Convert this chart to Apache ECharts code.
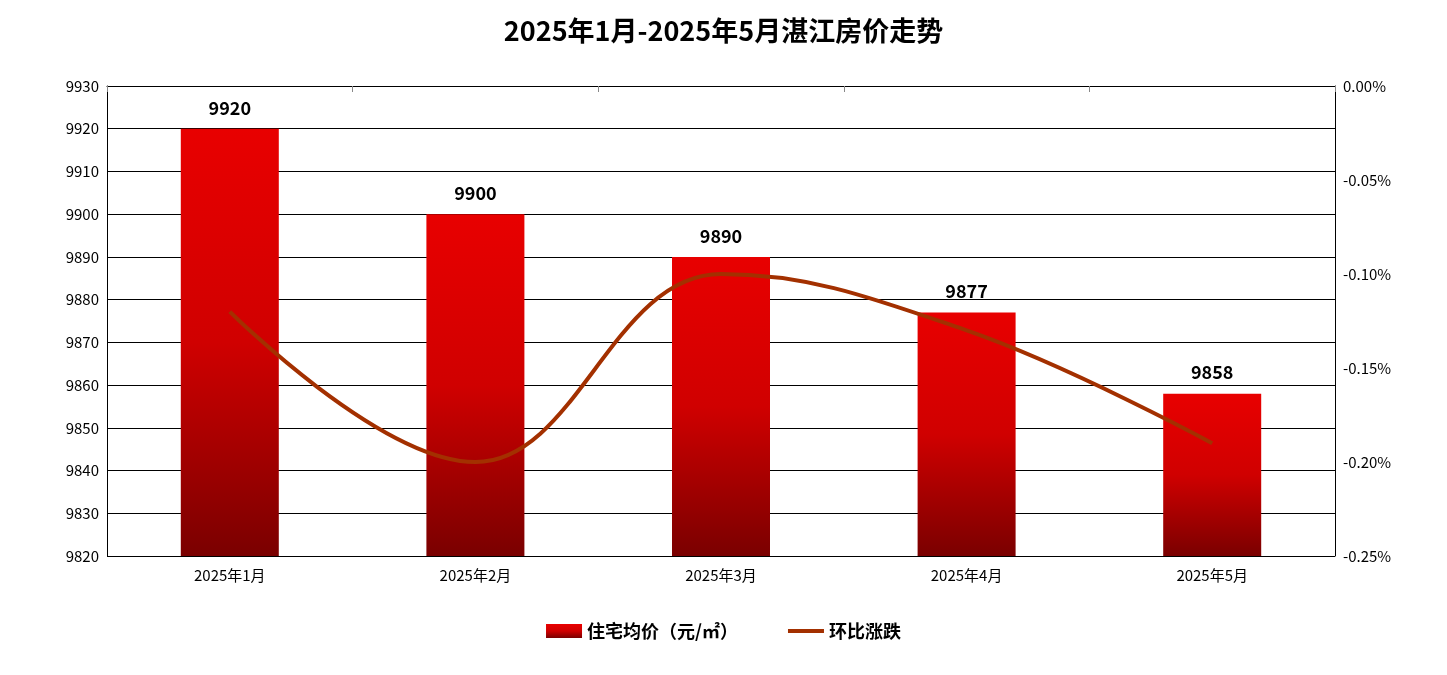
<html>
<head>
<meta charset="UTF-8">
<title>湛江房价走势</title>
<script src="https://cdn.jsdelivr.net/npm/echarts@6/dist/echarts.min.js"></script>
<style>
    body{ margin:0; background:#fff; }
    #main{ width:1447px; height:675px; }
</style>
</head>
<body>
<div id="main"></div>
<script>
var months = ['2025年1月', '2025年2月', '2025年3月', '2025年4月', '2025年5月'];
var prices = [9920, 9900, 9890, 9877, 9858];
var changes = [-0.12, -0.20, -0.10, -0.13, -0.19];

var myChart = echarts.init(document.getElementById('main'));
var font = '"Noto Sans CJK SC", sans-serif';

option = {
    textStyle: { fontFamily: font },
    title: {
        text: '2025年1月-2025年5月湛江房价走势',
        left: 'center',
        top: 12,
        textStyle: { fontSize: 27, fontWeight: 'bold', color: '#000', fontFamily: font }
    },
    legend: {
        bottom: 30,
        itemGap: 50,
        itemWidth: 36,
        itemHeight: 14,
        textStyle: { fontSize: 18, fontWeight: 'bold', color: '#000' },
        data: [
            { name: '住宅均价（元/㎡）', icon: 'rect' },
            { name: '环比涨跌', icon: 'path://M0,6 L36,6 L36,10 L0,10 Z' }
        ]
    },
    grid: { left: 107, right: 112, top: 86, bottom: 119 },
    xAxis: {
        type: 'category',
        data: months,
        axisLine: { lineStyle: { color: '#000' } },
        axisTick: { show: true, inside: false, length: 6, lineStyle: { color: '#888' } },
        axisLabel: { color: '#000', fontSize: 15, margin: 12 }
    },
    yAxis: [{
        type: 'value',
        min: 9820, max: 9930, interval: 10,
        axisLine: { show: true, lineStyle: { color: '#000' } },
        axisLabel: { color: '#000', fontSize: 15, formatter: function (v) { return String(v); } },
        splitLine: { lineStyle: { color: '#000' } }
    }, {
        type: 'value',
        min: -0.25, max: 0, interval: 0.05,
        axisLine: { show: true, lineStyle: { color: '#000' } },
        axisLabel: { color: '#000', fontSize: 15, formatter: function (v) { return v.toFixed(2) + '%'; } },
        splitLine: { show: false }
    }],
    series: [{
        name: '住宅均价（元/㎡）',
        type: 'bar',
        data: prices,
        barWidth: 98,
        itemStyle: {
            color: new echarts.graphic.LinearGradient(0, 0, 0, 1, [
                { offset: 0, color: '#e80000' },
                { offset: 0.5, color: '#d00000' },
                { offset: 1, color: '#7a0000' }
            ])
        },
        label: { show: true, position: 'top', distance: 12, fontSize: 18, fontWeight: 'bold', color: '#000' }
    }, {
        name: '环比涨跌',
        type: 'line',
        yAxisIndex: 1,
        data: changes,
        smooth: 0.4,
        symbol: 'none',
        lineStyle: { color: '#a33000', width: 4 },
        itemStyle: { color: '#a33000' }
    }]
};
myChart.setOption(option);
</script>
</body>
</html>
